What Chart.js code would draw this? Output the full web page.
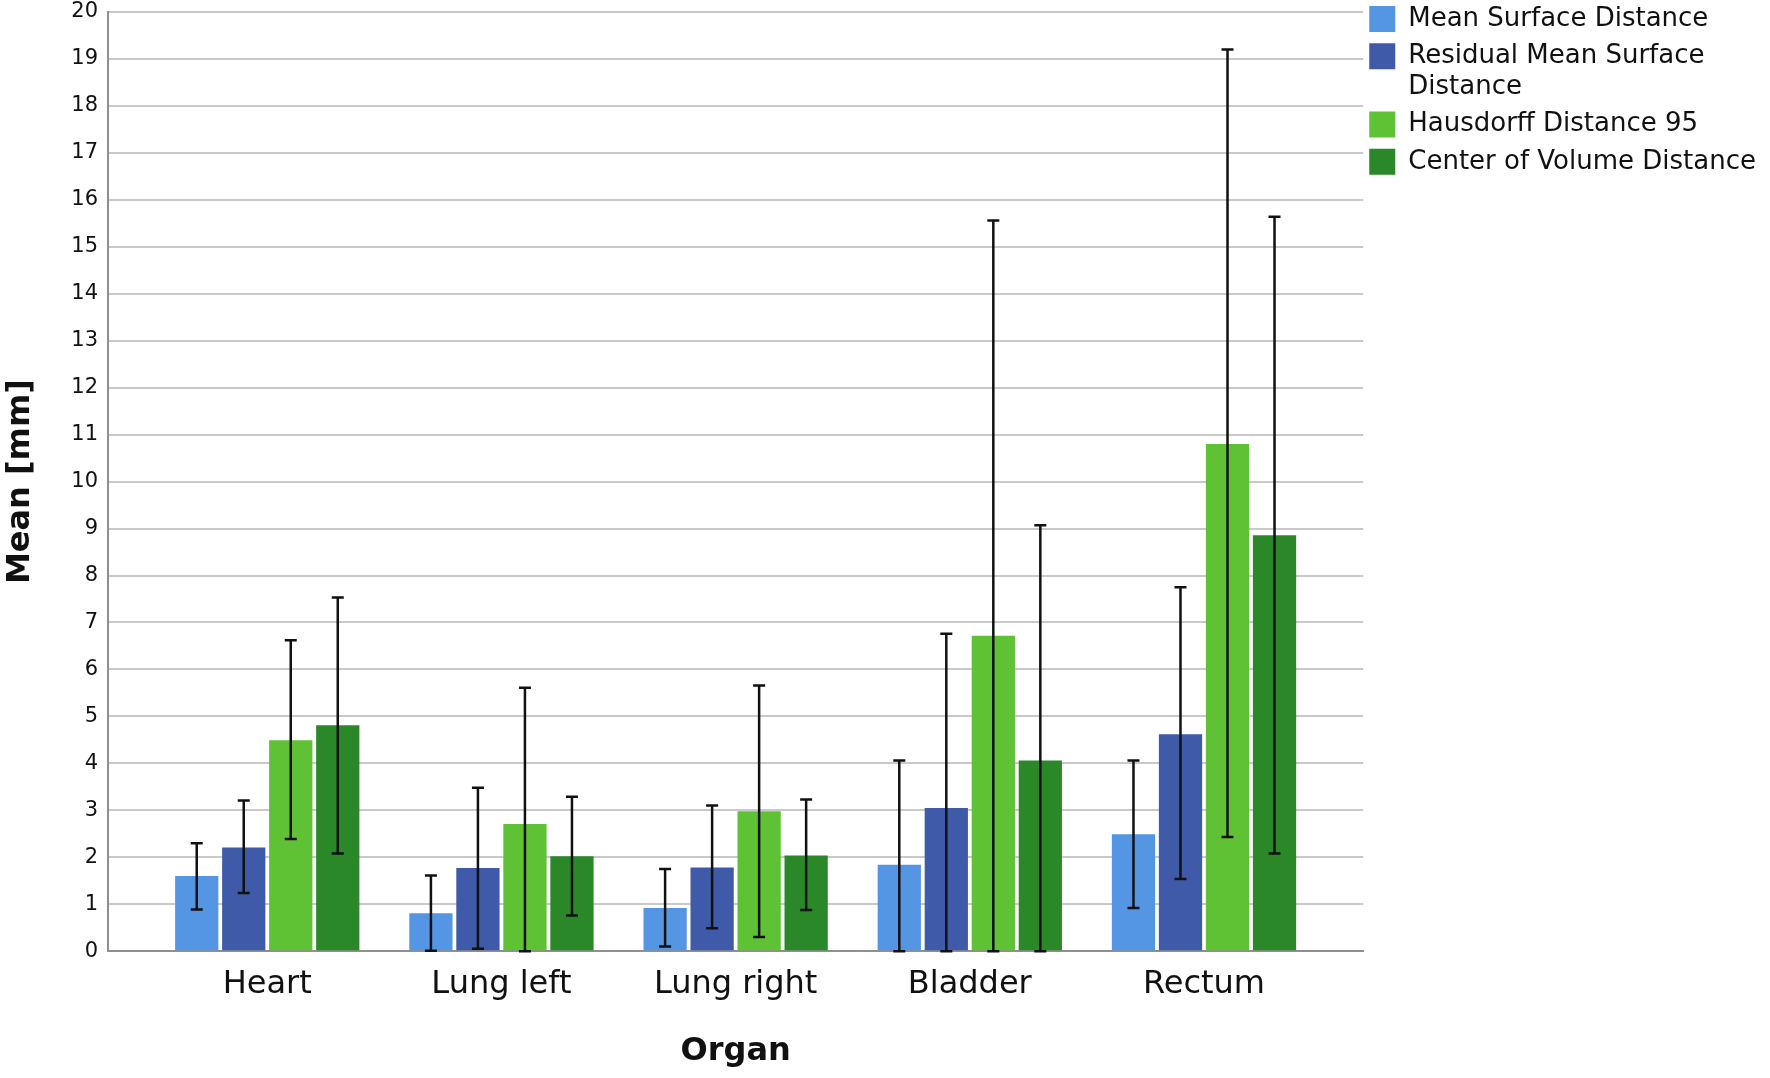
<!DOCTYPE html>
<html>
<head>
<meta charset="utf-8">
<script src="https://cdn.jsdelivr.net/npm/chart.js@4.4.1/dist/chart.umd.min.js"></script>
<style>
  html, body { margin: 0; padding: 0; background: #fff; }
  #wrap { width: 1770px; height: 1078px; position: relative; }
</style>
</head>
<body>
<div id="wrap"><canvas id="organ-chart"></canvas></div>
<script>
const organs = ['Heart', 'Lung left', 'Lung right', 'Bladder', 'Rectum'];
const organPositions = [0, 1, 2, 3, 4];
const seriesNames = ['Mean Surface Distance', 'Residual Mean Surface Distance', 'Hausdorff Distance 95', 'Center of Volume Distance'];
const legendText = [['Mean Surface Distance'], ['Residual Mean Surface', 'Distance'], ['Hausdorff Distance 95'], ['Center of Volume Distance']];

// means and error bar ends (mm)
const msdMean = [1.60, 0.81, 0.92, 1.84, 2.49];
const msdLow = [0.89, 0.01, 0.10, 0.0, 0.92];
const msdHigh = [2.30, 1.61, 1.75, 4.06, 4.06];

const rmsdMean = [2.21, 1.77, 1.78, 3.05, 4.62];
const rmsdLow = [1.24, 0.05, 0.49, 0.0, 1.54];
const rmsdHigh = [3.21, 3.48, 3.10, 6.76, 7.75];

const hd95Mean = [4.49, 2.71, 2.98, 6.72, 10.80];
const hd95Low = [2.39, 0.0, 0.30, 0.0, 2.43];
const hd95High = [6.62, 5.61, 5.66, 15.56, 19.20];

const cvdMean = [4.81, 2.02, 2.04, 4.06, 8.86];
const cvdLow = [2.08, 0.76, 0.88, 0.0, 2.08];
const cvdHigh = [7.53, 3.29, 3.23, 9.07, 15.64];

const yMin = 0;
const yMax = 20;
const yStep = 1;

const colors = ['#5596e4', '#3f5aa9', '#5ec234', '#2b8828'];
const fontFamily = '"DejaVu Sans", "Liberation Sans", sans-serif';

function makeDataset(index, means, lows, highs){
    return {
        label: seriesNames[index],
        data: means.map((value, i) => ({ x: organPositions[i], y: value })),
        errLow: lows,
        errHigh: highs,
        backgroundColor: colors[index],
        borderWidth: 0,
        categoryPercentage: 0.803,
        barPercentage: 0.92
    };
}

const errorBarsPlugin = {
    id: 'errorBars',
    afterDatasetsDraw(chart){
        const { ctx } = chart;
        const yScale = chart.scales.y;
        ctx.save();
        ctx.strokeStyle = '#111';
        ctx.lineWidth = 2.5;
        chart.data.datasets.forEach((dataset, i) => {
            const meta = chart.getDatasetMeta(i);
            meta.data.forEach((bar, j) => {
                const top = yScale.getPixelForValue(dataset.errHigh[j]);
                const bottom = yScale.getPixelForValue(dataset.errLow[j]);
                ctx.beginPath();
                ctx.moveTo(bar.x, top);
                ctx.lineTo(bar.x, bottom);
                ctx.moveTo(bar.x - 6, top);
                ctx.lineTo(bar.x + 6, top);
                ctx.moveTo(bar.x - 6, bottom);
                ctx.lineTo(bar.x + 6, bottom);
                ctx.stroke();
            });
        });
        ctx.restore();
    }
};

new Chart(document.getElementById('organ-chart'), {
    type: 'bar',
    data: {
        datasets: [
            makeDataset(0, msdMean, msdLow, msdHigh),
            makeDataset(1, rmsdMean, rmsdLow, rmsdHigh),
            makeDataset(2, hd95Mean, hd95Low, hd95High),
            makeDataset(3, cvdMean, cvdLow, cvdHigh)
        ]
    },
    options: {
        responsive: true,
        maintainAspectRatio: false,
        animation: false,
        layout: { padding: { top: 0, right: 4, bottom: 0, left: 0 } },
        plugins: {
            tooltip: { enabled: false },
            legend: {
                position: 'right',
                align: 'start',
                labels: {
                    boxWidth: 26,
                    boxHeight: 26,
                    padding: 6,
                    color: '#111',
                    font: { family: fontFamily, size: 26, lineHeight: 1.2 },
                    generateLabels(chart){
                        const items = Chart.defaults.plugins.legend.labels.generateLabels(chart);
                        items.forEach((item, i) => {
                            item.text = legendText[i];
                            item.lineWidth = 0;
                        });
                        return items;
                    }
                }
            }
        },
        scales: {
            x: {
                type: 'linear',
                min: -0.68,
                max: 4.68,
                offset: false,
                grid: { display: false, drawTicks: false },
                border: { display: true, color: '#8f8f8f', width: 2 },
                afterBuildTicks(scale){
                    scale.ticks = organPositions.map(value => ({ value }));
                },
                ticks: {
                    padding: 14,
                    color: '#111',
                    font: { family: fontFamily, size: 32 },
                    callback: value => organs[value]
                },
                title: {
                    display: true,
                    text: 'Organ',
                    color: '#111',
                    font: { family: fontFamily, size: 32, weight: 'bold' },
                    padding: { top: 15, bottom: 7 }
                }
            },
            y: {
                min: yMin,
                max: yMax,
                grid: { color: '#c9c9c9', lineWidth: 2, drawTicks: false },
                border: { display: true, color: '#8f8f8f', width: 2 },
                afterFit(scale){
                    scale.width = 108;
                    scale.paddingTop = 12;
                },
                ticks: {
                    stepSize: yStep,
                    padding: 10,
                    color: '#111',
                    font: { family: fontFamily, size: 21 }
                },
                title: {
                    display: true,
                    text: 'Mean [mm]',
                    color: '#111',
                    font: { family: fontFamily, size: 32, weight: 'bold' },
                    padding: { top: 1, bottom: 0 }
                }
            }
        }
    },
    plugins: [errorBarsPlugin]
});
</script>
</body>
</html>
